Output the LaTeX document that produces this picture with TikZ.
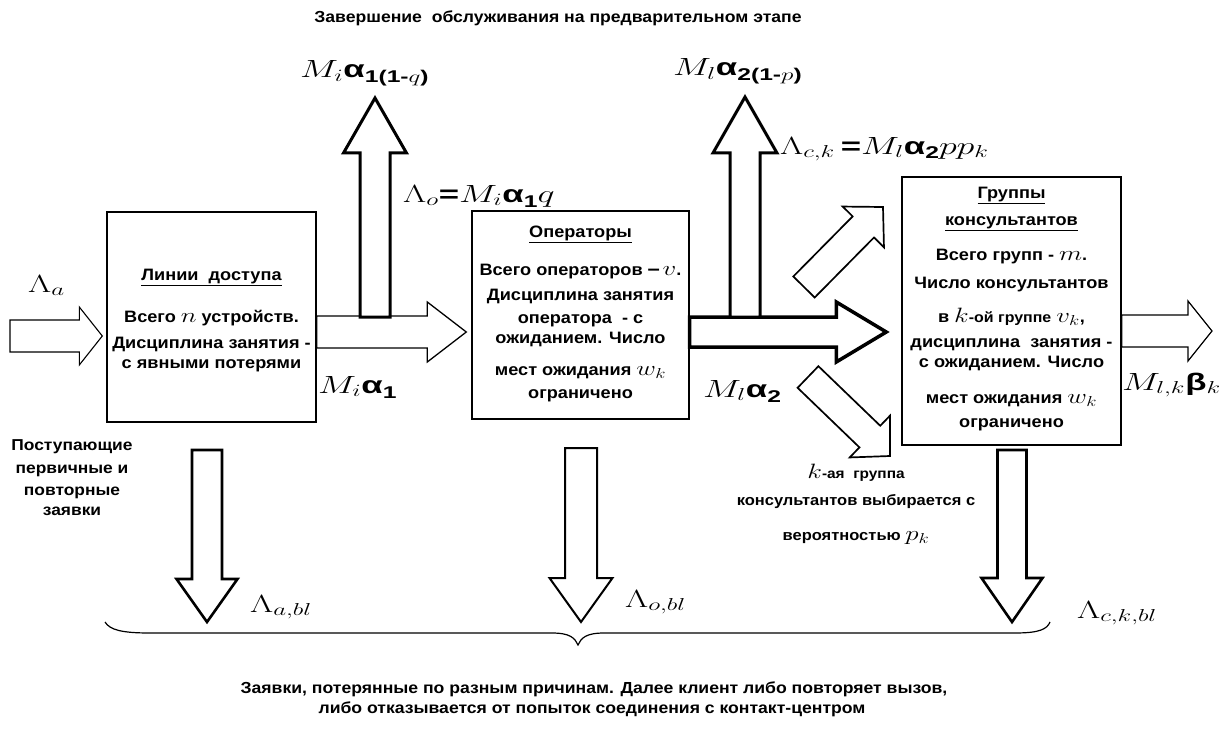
\documentclass[tikz,border=0pt]{standalone}
\usepackage{graphicx}
\usepackage{fontspec}
\setmainfont[FakeStretch=1.1]{Liberation Sans}
\newfontfamily\grk{Liberation Sans}
\usetikzlibrary{calc}

% block arrow: #1 style, #2 tail, #3 tip, #4 shaft half width, #5 head half width, #6 head length
\newcommand\blkarrow[6]{%
  \path (#2) coordinate (ba) (#3) coordinate (bb);
  \path ($(bb)!#6!(ba)$) coordinate (bh);
  \draw[#1] ($(ba)!#4!90:(bb)$) -- ($(bh)!#4!-90:(ba)$) -- ($(bh)!#5!-90:(ba)$) -- (bb)
     -- ($(bh)!#5!90:(ba)$) -- ($(bh)!#4!90:(ba)$) -- ($(ba)!#4!-90:(bb)$) -- cycle;}
\newcommand\eqn[1]{\scalebox{1.45}[1]{#1}}
\newcommand\bmath[1]{\scalebox{1.3}[1]{\fontsize{22}{24}\selectfont$#1$}}
\newcommand\lsub[1]{\raisebox{-5pt}{\fontsize{17}{17}\selectfont\grk\bfseries #1}}
\newcommand\ga{{\grk\bfseries α}}
\newcommand\gb{{\grk\bfseries β}}
\newcommand\eqs{{\grk\bfseries =}}

\tikzset{
  box/.style={draw, line width=1.4pt, fill=white, inner sep=0pt},
  txt/.style={font=\bfseries\fontsize{16.5}{19}\selectfont, inner sep=0pt, anchor=base},
  lbl/.style={font=\fontsize{24}{28}\selectfont, inner sep=0pt, anchor=base west},
  arr/.style={draw, fill=white, line join=miter},
  lefttxt/.style={font=\bfseries\fontsize{15.8}{18}\selectfont, inner sep=0pt, anchor=base},
  ktxt/.style={font=\bfseries\fontsize{15}{18}\selectfont, inner sep=0pt, anchor=base},
  notetxt/.style={font=\bfseries\fontsize{16}{18}\selectfont, inner sep=0pt, anchor=base},
}

\begin{document}
\begin{tikzpicture}[x=1pt,y=-1pt]
\useasboundingbox (0,0) rectangle (1226,733);

% boxes
\node[box, minimum width=209pt, minimum height=210pt] (b1) at (211.5,317) {};
\node[box, minimum width=217pt, minimum height=208pt] (b2) at (580.5,315) {};
\node[box, minimum width=219pt, minimum height=268pt] (b3) at (1011.5,311) {};

% level coordinates
\coordinate (ym1) at (0,332);
\coordinate (ym2) at (0,332);
\coordinate (ym3) at (0,331);
\coordinate (inL) at (10,336);
\coordinate (u1s) at (375,317);
\coordinate (u1e) at (375,98);
\coordinate (u2s) at (745,317);
\coordinate (u2e) at (745,97);
\coordinate (d1s) at (804,287);
\coordinate (d1e) at (883,207);
\coordinate (d2s) at (808,377);
\coordinate (d2e) at (890,456);
\coordinate (outE) at (1212,331);
\coordinate (l1s) at (207,450);
\coordinate (l1e) at (207,622);
\coordinate (l2s) at (581,448);
\coordinate (l2e) at (581,622);
\coordinate (l3s) at (1012,450);
\coordinate (l3e) at (1012,622);

% arrows
\blkarrow{arr, line width=1.1pt}{inL}{$(b1.west|-inL)+(-4,0)$}{16pt}{29pt}{23pt}
\blkarrow{arr, line width=1.3pt}{b1.east|-ym1}{$(b2.west|-ym1)+(-5,0)$}{16pt}{30pt}{39pt}
\blkarrow{arr, line width=3pt}{u1s}{u1e}{15pt}{31.5pt}{55pt}
\blkarrow{arr, line width=3.5pt}{b2.east|-ym2}{$(b3.west|-ym2)+(-15,0)$}{15pt}{30pt}{50pt}
\blkarrow{arr, line width=3pt}{u2s}{u2e}{15pt}{32pt}{56pt}
\blkarrow{arr, line width=1.7pt}{d1s}{d1e}{15pt}{29pt}{28pt}
\blkarrow{arr, line width=1.7pt}{d2s}{d2e}{15pt}{29pt}{28pt}
\blkarrow{arr, line width=1.2pt}{b3.east|-ym3}{outE}{16pt}{30pt}{24pt}
\blkarrow{arr, line width=2.6pt}{l1s}{l1e}{15pt}{30.5pt}{43pt}
\blkarrow{arr, line width=2pt}{l2s}{l2e}{16pt}{31.5pt}{44pt}
\blkarrow{arr, line width=2.6pt}{l3s}{l3e}{14.5pt}{30.5pt}{44pt}

% brace
\draw[line width=1.2pt] (105,622) .. controls (110,630) and (122,633) .. (150,633) -- (552,633)
  .. controls (570,633) and (575,638) .. (578,645) .. controls (581,638) and (586,633) .. (604,633)
  -- (1015,633) .. controls (1040,633) and (1047,629) .. (1050,622);

% box 1 text
\node[txt] (t11) at (211.5,280) {\underline{Линии\ \ доступа}};
\node[txt] (t12) at (211.5,322) {Всего \bmath{n} устройств.};
\node[txt] (t13) at (211.5,348) {Дисциплина занятия -};
\node[txt] (t14) at (211.5,368) {с явными потерями};

% box 2 text
\node[txt] (t21) at (580.5,237) {\underline{Операторы}};
\node[txt] (t22) at (580.5,275) {Всего операторов {\fontsize{20}{20}\selectfont–}\,\bmath{v}.};
\node[txt] (t23) at (580.5,300) {Дисциплина занятия};
\node[txt] (t24) at (580.5,323) {оператора\ \ - с};
\node[txt] (t25) at (580.5,343) {ожиданием. Число};
\node[txt] (t26) at (580.5,375) {мест ожидания \bmath{w_k}};
\node[txt] (t27) at (580.5,398) {ограничено};

% box 3 text
\node[txt] (t31) at (1011.5,198) {\underline{Группы}};
\node[txt] (t32) at (1011.5,225) {\underline{консультантов}};
\node[txt] (t33) at (1011.5,260) {Всего групп - \bmath{m}.};
\node[txt] (t34) at (1011.5,288) {Число консультантов};
\node[txt] (t35) at (1011.5,322) {в\ \bmath{k}{\fontsize{14.5}{16}\selectfont-ой группе} \bmath{v_k},};
\node[txt] (t36) at (1011.5,347) {дисциплина\ \ занятия -};
\node[txt] (t37) at (1011.5,367) {с ожиданием. Число};
\node[txt] (t38) at (1011.5,403) {мест ожидания\ \bmath{w_k}};
\node[txt] (t39) at (1011.5,427) {ограничено};

% other texts
\node[notetxt] (title) at (558,23)
  {Завершение\ \ обслуживания на предварительном этапе};
\node[lefttxt] (p1) at (72,450) {Поступающие};
\node[lefttxt] (p2) at (72,473) {первичные и};
\node[lefttxt] (p3) at (72,495) {повторные};
\node[lefttxt] (p4) at (72,515) {заявки};
\node[ktxt] (k1) at (856,478) {\bmath{k}{\fontsize{14}{16}\selectfont-ая\ \ группа}};
\node[ktxt] (k2) at (856,505) {консультантов выбирается с};
\node[ktxt] (k3) at (856,540) {вероятностью \bmath{p_k}};
\node[notetxt] (bt1) at (594,693)
  {Заявки, потерянные по разным причинам. Далее клиент либо повторяет вызов,};
\node[notetxt] (bt2) at (592,713)
  {либо отказывается от попыток соединения с контакт-центром};

% math labels
\node[lbl] (La) at (28,292) {\eqn{$\Lambda_a$}};
\node[lbl] (Lq1) at (300,78) {\eqn{$M_i$\ga\lsub{1(1-$q$)}}};
\node[lbl] (Lp2) at (673,76) {\eqn{$M_l$\ga\lsub{2(1-$p$)}}};
\node[lbl] (Lo) at (403,202) {\eqn{$\Lambda_o$\eqs$M_i$\ga\lsub{1}$q$}};
\node[lbl] (Lck) at (780,154) {\eqn{$\Lambda_{c,k}$\,\eqs$M_l$\ga\lsub{2}$pp_k$}};
\node[lbl] (Ma1) at (318,393) {\eqn{$M_i$\ga\lsub{1}}};
\node[lbl] (Ma2) at (703,397) {\eqn{$M_l$\ga\lsub{2}}};
\node[lbl] (Mlk) at (1122,390) {\eqn{$M_{l,k}$\gb$_k$}};
\node[lbl] (Lab) at (250,612) {\eqn{$\Lambda_{a,bl}$}};
\node[lbl] (Lob) at (625,607) {\eqn{$\Lambda_{o,bl}$}};
\node[lbl] (Lcb) at (1077,618) {\eqn{$\Lambda_{c,k,bl}$}};
\end{tikzpicture}
\end{document}
